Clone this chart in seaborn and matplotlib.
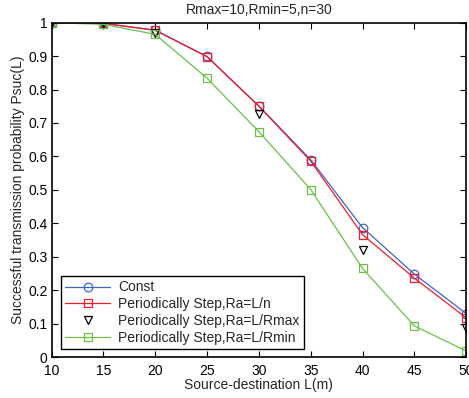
import matplotlib

matplotlib.use("Agg")
import matplotlib.pyplot as plt
import numpy as np
import pandas as pd
import seaborn as sns

distance = [10, 15, 20, 25, 30, 35, 40, 45, 50]
psuc_const = [1.0, 0.998, 0.978, 0.899, 0.751, 0.590, 0.387, 0.248, 0.130]
psuc_step_n = [1.0, 0.998, 0.977, 0.898, 0.750, 0.586, 0.366, 0.236, 0.117]
# triangles are only visible at these distances in the source figure
psuc_step_rmax = [1.0, 0.997, 0.968, np.nan, 0.726, np.nan, 0.319, np.nan, 0.088]
psuc_step_rmin = [1.0, 0.995, 0.965, 0.834, 0.674, 0.501, 0.265, 0.093, 0.018]

labels = [
    "Const",
    "Periodically Step,Ra=L/n",
    "Periodically Step,Ra=L/Rmax",
    "Periodically Step,Ra=L/Rmin",
]

sns.set_style("ticks")
plt.rcParams["font.family"] = ["Liberation Sans", "DejaVu Sans"]
plt.rcParams["font.size"] = 8

fig = plt.figure(figsize=(4.69, 3.98), dpi=100)
ax = fig.add_axes([0.110, 0.103, 0.884, 0.840])

frame = pd.DataFrame(
    {
        "L": distance,
        "const": psuc_const,
        "step_n": psuc_step_n,
        "step_rmax": psuc_step_rmax,
        "step_rmin": psuc_step_rmin,
    }
)

msize = 6.2
sns.lineplot(
    data=frame, x="L", y="const", ax=ax, color="#4063c8", lw=0.9,
    marker="o", markersize=msize, markerfacecolor="none",
    markeredgecolor="#4063c8", markeredgewidth=0.9, label=labels[0],
)
sns.lineplot(
    data=frame, x="L", y="step_n", ax=ax, color="#f01c2c", lw=0.9,
    marker="s", markersize=msize, markerfacecolor="none",
    markeredgecolor="#f01c2c", markeredgewidth=0.9, label=labels[1],
)
ax.plot(
    frame["L"], frame["step_rmax"], ls="none", marker="v", markersize=msize,
    markerfacecolor="none", markeredgecolor="black", markeredgewidth=0.9,
    label=labels[2],
)
sns.lineplot(
    data=frame, x="L", y="step_rmin", ax=ax, color="#6cc04a", lw=0.9,
    marker="s", markersize=msize, markerfacecolor="none",
    markeredgecolor="#6cc04a", markeredgewidth=0.9, label=labels[3],
)

ax.set_xlim(10, 50)
ax.set_ylim(0, 1)
ax.set_xticks(np.arange(10, 51, 5))
ax.set_yticks(np.round(np.arange(0, 1.01, 0.1), 1))
ax.set_yticklabels(["0", "0.1", "0.2", "0.3", "0.4", "0.5", "0.6", "0.7", "0.8", "0.9", "1"])
ax.tick_params(direction="in", top=True, right=True, length=4, width=0.8,
               labelsize=10, colors="black")
ax.tick_params(axis="x", pad=5)
ax.tick_params(axis="y", pad=3)
for spine in ax.spines.values():
    spine.set_visible(True)
    spine.set_linewidth(1.2)
    spine.set_color("black")

ax.set_xlabel("Source-destination L(m)", fontsize=10, labelpad=0)
ax.set_ylabel("Successful transmission probability Psuc(L)", fontsize=10, labelpad=2)
ax.set_title("Rmax=10,Rmin=5,n=30", fontsize=10, pad=6)

leg = ax.legend(
    loc="lower left", bbox_to_anchor=(0.023, 0.024), fontsize=10,
    frameon=True, fancybox=False, edgecolor="black", framealpha=1,
    borderpad=0.3, labelspacing=0.2, handlelength=3.2, handletextpad=0.6,
    borderaxespad=0,
)
leg.get_frame().set_linewidth(1.0)

fig.savefig("out.png", dpi=100)
plt.close(fig)
